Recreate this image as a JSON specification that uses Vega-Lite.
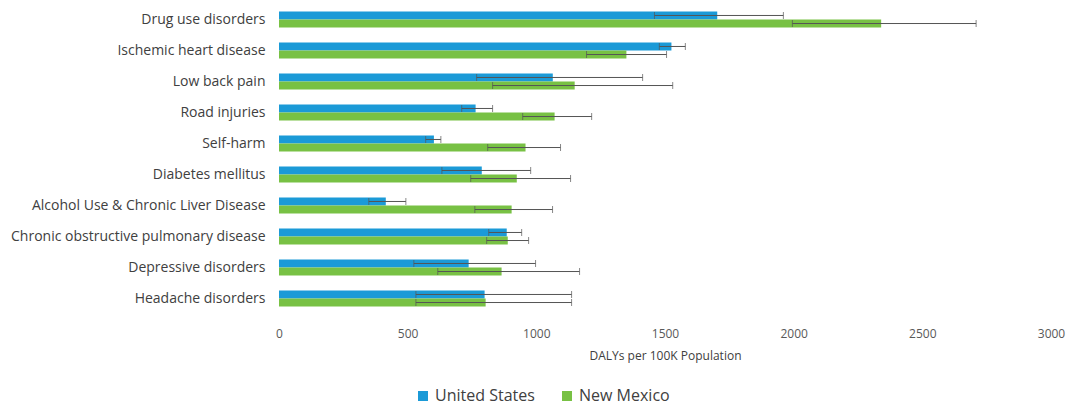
{
  "$schema": "https://vega.github.io/schema/vega-lite/v6.json",
  "width": 772,
  "height": 310,
  "padding": {"left": 10, "top": 4, "right": 12, "bottom": 4},
  "background": "white",
  "config": {"view": {"stroke": null}, "font": "Open Sans"},
  "data": {"values": [
    {"cause": "Drug use disorders", "series": "United States", "value": 1703, "lo": 1459, "hi": 1960},
    {"cause": "Drug use disorders", "series": "New Mexico", "value": 2340, "lo": 1995, "hi": 2709},
    {"cause": "Ischemic heart disease", "series": "United States", "value": 1525, "lo": 1478, "hi": 1579},
    {"cause": "Ischemic heart disease", "series": "New Mexico", "value": 1350, "lo": 1195, "hi": 1506},
    {"cause": "Low back pain", "series": "United States", "value": 1064, "lo": 768, "hi": 1413},
    {"cause": "Low back pain", "series": "New Mexico", "value": 1149, "lo": 830, "hi": 1530},
    {"cause": "Road injuries", "series": "United States", "value": 764, "lo": 710, "hi": 830},
    {"cause": "Road injuries", "series": "New Mexico", "value": 1071, "lo": 947, "hi": 1215},
    {"cause": "Self-harm", "series": "United States", "value": 602, "lo": 570, "hi": 629},
    {"cause": "Self-harm", "series": "New Mexico", "value": 958, "lo": 811, "hi": 1094},
    {"cause": "Diabetes mellitus", "series": "United States", "value": 788, "lo": 633, "hi": 978},
    {"cause": "Diabetes mellitus", "series": "New Mexico", "value": 924, "lo": 745, "hi": 1133},
    {"cause": "Alcohol Use & Chronic Liver Disease", "series": "United States", "value": 415, "lo": 349, "hi": 493},
    {"cause": "Alcohol Use & Chronic Liver Disease", "series": "New Mexico", "value": 904, "lo": 761, "hi": 1063},
    {"cause": "Chronic obstructive pulmonary disease", "series": "United States", "value": 885, "lo": 815, "hi": 943},
    {"cause": "Chronic obstructive pulmonary disease", "series": "New Mexico", "value": 889, "lo": 807, "hi": 970},
    {"cause": "Depressive disorders", "series": "United States", "value": 737, "lo": 524, "hi": 997},
    {"cause": "Depressive disorders", "series": "New Mexico", "value": 865, "lo": 617, "hi": 1168},
    {"cause": "Headache disorders", "series": "United States", "value": 799, "lo": 532, "hi": 1137},
    {"cause": "Headache disorders", "series": "New Mexico", "value": 803, "lo": 532, "hi": 1137}
  ]},
  "encoding": {
    "y": {
      "field": "cause", "type": "nominal", "sort": null, "title": null,
      "scale": {"paddingInner": 0.48, "paddingOuter": 0.24},
      "axis": {"domain": false, "ticks": false, "labelFontSize": 14, "labelColor": "#404040", "labelPadding": 14, "labelLimit": 400}
    },
    "yOffset": {"field": "series", "type": "nominal", "sort": ["United States", "New Mexico"], "scale": {"paddingInner": 0, "paddingOuter": 0}}
  },
  "layer": [
    {
      "mark": {"type": "bar"},
      "encoding": {
        "x": {
          "field": "value", "type": "quantitative", "title": "DALYs per 100K Population",
          "scale": {"domain": [0, 3000], "nice": false},
          "axis": {"values": [0, 500, 1000, 1500, 2000, 2500, 3000], "format": "d", "labelFlush": false, "domain": false, "ticks": false, "grid": false,
                   "labelFontSize": 12, "labelColor": "#595959", "labelPadding": 14,
                   "titleFontSize": 12, "titleFontWeight": "normal", "titleColor": "#404040", "titlePadding": 11}
        },
        "color": {
          "field": "series", "type": "nominal", "title": null,
          "scale": {"domain": ["United States", "New Mexico"], "range": ["#1b9ad7", "#78c144"]},
          "legend": {"orient": "none", "legendX": 136, "legendY": 384, "direction": "horizontal", "symbolType": "square",
                     "symbolSize": 100, "symbolStrokeWidth": 0, "labelFontSize": 16, "labelColor": "#404040", "columnPadding": 24}
        }
      }
    },
    {
      "mark": {"type": "rule", "color": "#555555", "strokeWidth": 1},
      "encoding": {"x": {"field": "lo", "type": "quantitative"}, "x2": {"field": "hi"}}
    },
    {
      "mark": {"type": "tick", "color": "#555555", "thickness": 1, "size": 7},
      "encoding": {"x": {"field": "lo", "type": "quantitative"}}
    },
    {
      "mark": {"type": "tick", "color": "#555555", "thickness": 1, "size": 7},
      "encoding": {"x": {"field": "hi", "type": "quantitative"}}
    }
  ]
}
